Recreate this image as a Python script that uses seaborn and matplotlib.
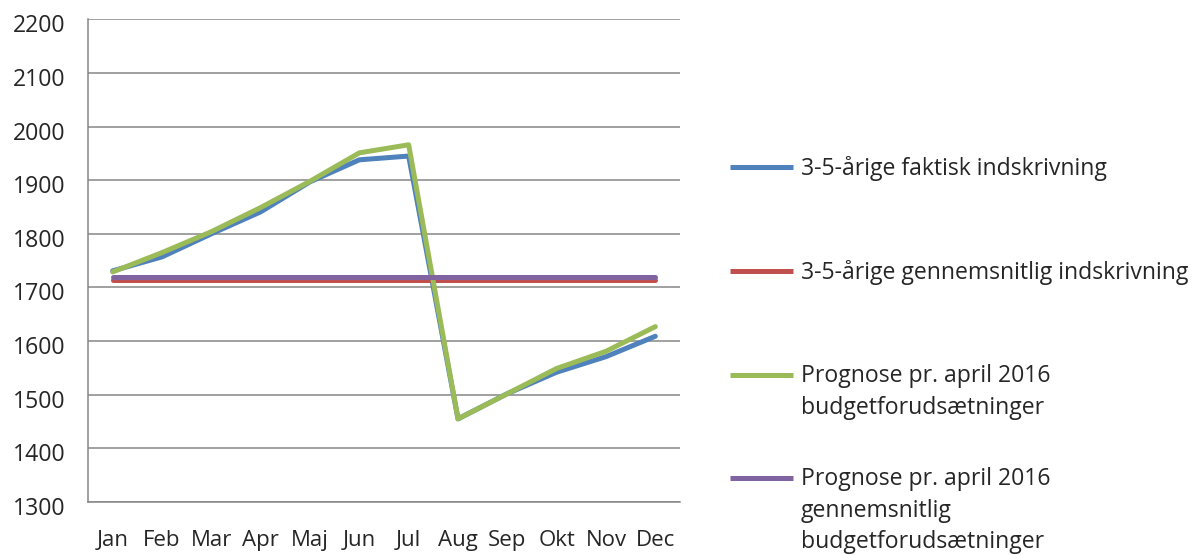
import pandas as pd
import seaborn as sns
import matplotlib.pyplot as plt
from matplotlib.lines import Line2D
from matplotlib.transforms import ScaledTranslation

# data
months = ["Jan", "Feb", "Mar", "Apr", "Maj", "Jun", "Jul", "Aug", "Sep", "Okt", "Nov", "Dec"]
faktisk = [1731, 1757, 1800, 1841, 1897, 1938, 1945, 1455, 1502, 1542, 1571, 1609]
gennemsnit = [1713, 1713, 1713, 1713, 1713, 1713, 1713, 1713, 1713, 1713, 1713, 1713]
prognose_budget = [1729, 1765, 1804, 1849, 1898, 1951, 1966, 1455, 1502, 1549, 1581, 1627]
prognose_gns = [1720, 1720, 1720, 1720, 1720, 1720, 1720, 1720, 1720, 1720, 1720, 1720]

series_names = [
    "3-5-årige faktisk indskrivning",
    "3-5-årige gennemsnitlig indskrivning",
    "Prognose pr. april 2016\nbudgetforudsætninger",
    "Prognose pr. april 2016\ngennemsnitlig\nbudgetforudsætninger",
]
colors = ["#4F81BD", "#C0504D", "#9BBB59", "#8064A2"]
y_ticks = [1300, 1400, 1500, 1600, 1700, 1800, 1900, 2000, 2100, 2200]

df = pd.DataFrame({
    "Måned": months * 4,
    "Antal": faktisk + gennemsnit + prognose_budget + prognose_gns,
    "Serie": [s for s in series_names for _ in months],
})

sns.set_style("white")
plt.rcParams["font.family"] = ["Open Sans", "DejaVu Sans"]

W, H = 1195, 555
grid_col = "#868686"
fs = 16.6

fig = plt.figure(figsize=(W / 100, H / 100), dpi=100)
ax = fig.add_axes([88 / W, 1 - 502 / H, (680 - 88) / W, (502 - 19.3) / H])

ax.set_axisbelow(True)
ax.yaxis.grid(True, color=grid_col, linewidth=1.1)

sns.lineplot(
    data=df,
    x="Måned",
    y="Antal",
    hue="Serie",
    hue_order=series_names,
    palette=colors,
    linewidth=3.6,
    sort=False,
    legend=False,
    ax=ax,
)

ax.set_ylim(1300, 2200)
ax.set_yticks(y_ticks)
ax.set_xlim(-0.5, 11.5)
ax.set_xticks(range(len(months)))
ax.set_xticklabels(months)
ax.set_xticks([i - 0.5 for i in range(len(months) + 1)], minor=True)

for side in ["top", "right"]:
    ax.spines[side].set_visible(False)
for side in ["left", "bottom"]:
    ax.spines[side].set_color(grid_col)
    ax.spines[side].set_linewidth(1.1)

ax.tick_params(axis="x", which="major", length=0, pad=20, labelsize=16)
ax.tick_params(axis="x", which="minor", length=6, width=1.1, color=grid_col, direction="out")
ax.tick_params(axis="y", which="major", length=6, width=1.1, color=grid_col, direction="out", pad=10, labelsize=fs)

# Excel puts the value labels slightly below their gridline
shift = ScaledTranslation(0, -4 / 100, fig.dpi_scale_trans)
for lbl in ax.get_yticklabels():
    lbl.set_transform(lbl.get_transform() + shift)

ax.set_xlabel("")
ax.set_ylabel("")

# legend, handle aligned with the first text line as in Excel
legend_y = [167, 271, 375, 478]
for name, col, y in zip(series_names, colors, legend_y):
    fig.add_artist(Line2D([730 / W, 793 / W], [1 - y / H, 1 - y / H],
                          color=col, linewidth=3.6, solid_capstyle="butt"))
    fig.text(801 / W, 1 - (y - 11) / H, name, ha="left", va="top",
             fontsize=fs, linespacing=1.42)

fig.savefig("out.png", dpi=100)
